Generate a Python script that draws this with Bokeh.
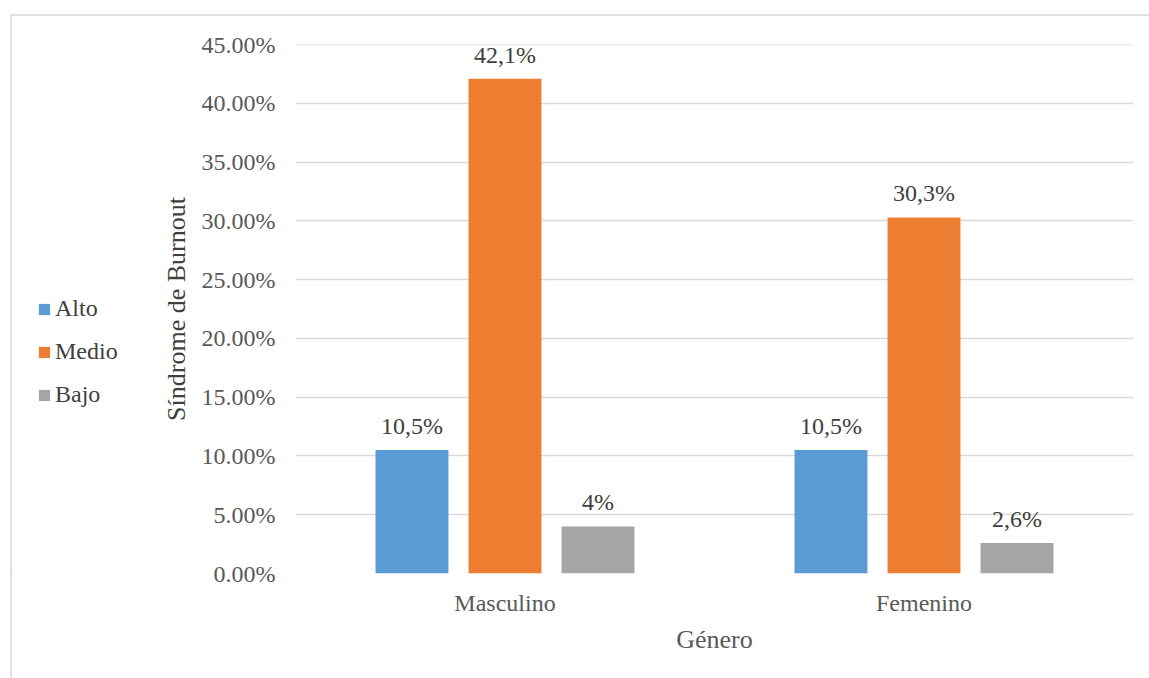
from bokeh.plotting import figure
from bokeh.layouts import row
from bokeh.models import (ColumnDataSource, FixedTicker, NumeralTickFormatter,
                          Legend, LegendItem, Range1d)
from bokeh.core.properties import value
from bokeh.embed import file_html
from bokeh.resources import INLINE

categories = ["Masculino", "Femenino"]
series = ["Alto", "Medio", "Bajo"]
alto = [0.105, 0.105]
medio = [0.421, 0.303]
bajo = [0.04, 0.026]
labels_alto = ["10,5%", "10,5%"]
labels_medio = ["42,1%", "30,3%"]
labels_bajo = ["4%", "2,6%"]
colors = ["#5b9bd5", "#ed7d31", "#a5a5a5"]
y_ticks = [0.0, 0.05, 0.10, 0.15, 0.20, 0.25, 0.30, 0.35, 0.40, 0.45]

FONT = "Liberation Serif"
GRID = "#d9d9d9"
LEG_W = 140
TOTAL_W = 1137
H = 662

# legend panel (separate figure on the left)
lf = figure(width=LEG_W, height=H, output_backend="svg", toolbar_location=None,
            x_range=Range1d(0, 1), y_range=Range1d(0, 1),
            x_axis_type=None, y_axis_type=None,
            min_border_left=0, min_border_right=0, min_border_top=0,
            min_border_bottom=0)
lf.outline_line_color = None
lf.xgrid.grid_line_color = None
lf.ygrid.grid_line_color = None

# main chart
p = figure(width=TOTAL_W - LEG_W, height=H, output_backend="svg",
           toolbar_location=None,
           x_range=Range1d(0, 2), y_range=Range1d(0, 0.4502),
           min_border_left=143, min_border_top=28,
           min_border_right=16, min_border_bottom=105)
p.outline_line_color = None

centers = [0.5, 1.5]
offsets = [-0.222, 0.0, 0.222]
values = [alto, medio, bajo]
texts = [labels_alto, labels_medio, labels_bajo]
items = []
for name, off, vals, txt, col in zip(series, offsets, values, texts, colors):
    src = ColumnDataSource(dict(x=[c + off for c in centers], top=vals, label=txt))
    p.vbar(x="x", top="top", bottom=0, width=0.174, source=src,
           fill_color=col, line_color=None)
    p.text(x="x", y="top", text="label", source=src, text_align="center",
           text_baseline="middle", y_offset=-24, text_font=value(FONT),
           text_font_size="24px", text_color="#404040")
    # hidden proxy renderer (outside the view) for the legend swatch
    dummy = lf.vbar(x=[-100], top=[-100], bottom=-200, width=1,
                    fill_color=col, line_color=None)
    items.append(LegendItem(label=name, renderers=[dummy]))

legend = Legend(items=items, location=(25, 165), orientation="vertical",
                glyph_width=14, glyph_height=14, label_standoff=4, spacing=16,
                padding=0, margin=0, background_fill_alpha=0,
                border_line_color=None, label_text_font=FONT,
                label_text_font_size="24px", label_text_color="#404040")
lf.add_layout(legend)

p.yaxis.ticker = FixedTicker(ticks=y_ticks)
p.yaxis.formatter = NumeralTickFormatter(format="0.00%")
p.yaxis.axis_line_color = None
p.yaxis.major_tick_line_color = None
p.yaxis.minor_tick_line_color = None
p.yaxis.major_label_standoff = 14
p.yaxis.major_label_text_font = FONT
p.yaxis.major_label_text_font_size = "24px"
p.yaxis.major_label_text_color = "#595959"
p.yaxis.axis_label = "Síndrome de Burnout"
p.yaxis.axis_label_text_font = FONT
p.yaxis.axis_label_text_font_size = "26px"
p.yaxis.axis_label_text_font_style = "normal"
p.yaxis.axis_label_text_color = "#404040"
p.yaxis.axis_label_standoff = 8

p.xaxis.ticker = FixedTicker(ticks=centers)
p.xaxis.major_label_overrides = {0.5: categories[0], 1.5: categories[1]}
p.xaxis.axis_line_color = None
p.xaxis.major_tick_line_color = None
p.xaxis.minor_tick_line_color = None
p.xaxis.major_label_standoff = 10
p.xaxis.major_label_text_font = FONT
p.xaxis.major_label_text_font_size = "24px"
p.xaxis.major_label_text_color = "#595959"
p.xaxis.axis_label = "Género"
p.xaxis.axis_label_text_font = FONT
p.xaxis.axis_label_text_font_size = "26px"
p.xaxis.axis_label_text_font_style = "normal"
p.xaxis.axis_label_text_color = "#595959"
p.xaxis.axis_label_standoff = 6

p.xgrid.grid_line_color = None
p.ygrid.grid_line_color = GRID
p.ygrid.grid_line_width = 1.5

layout = row(lf, p, spacing=0,
             styles={"border-left": "2px solid #e0e0e0",
                     "border-top": "2px solid #e0e0e0",
                     "margin-left": "10px", "margin-top": "14px"})
open("out.html", "w").write(file_html(layout, INLINE))
